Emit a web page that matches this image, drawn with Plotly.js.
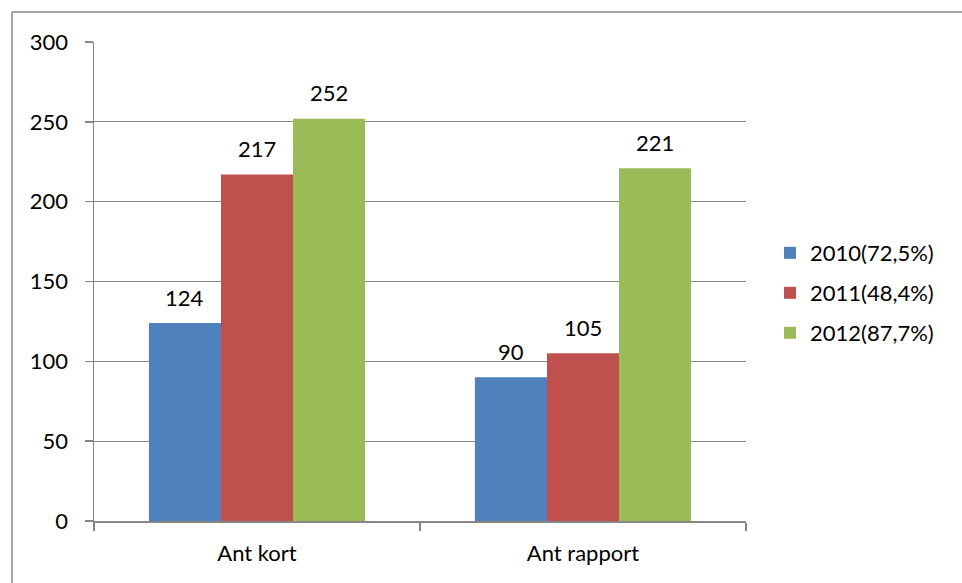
<!DOCTYPE html>
<html><head><meta charset="utf-8">
<script src="https://cdn.plot.ly/plotly-3.0.1.min.js"></script>
<style>html,body{margin:0;padding:0;background:#fff;}#chart{width:962px;height:583px;}</style>
</head><body><div id="chart"></div>
<script>
const categories = ["Ant kort", "Ant rapport"];
const seriesNames = ["2010(72,5%)", "2011(48,4%)", "2012(87,7%)"];
const values2010 = [124, 90];
const values2011 = [217, 105];
const values2012 = [252, 221];
const colors = ["#4F81BD", "#C0504D", "#9BBB59"];
const yTicks = [0, 50, 100, 150, 200, 250, 300];

const allValues = [values2010, values2011, values2012];
const FONT = "Lato, 'Open Sans', sans-serif";
const FS = 22;
const legendIds = ["legend", "legend2", "legend3"];

const traces = allValues.map((vals, k) => ({
  type: "bar",
  name: seriesNames[k],
  x: categories,
  y: vals,
  marker: {color: colors[k], line: {width: 0}},
  legend: legendIds[k],
  hoverinfo: "skip"
}));

const bargap = 0.337;
const barW = (1 - bargap) / 3;
const annotations = [];
allValues.forEach((vals, k) => {
  vals.forEach((v, i) => {
    annotations.push({
      x: i + (k - 1) * barW, y: v, xref: "x", yref: "y",
      text: String(v), showarrow: false, yanchor: "middle", yshift: 26,
      font: {family: FONT, size: FS, color: "#000"}
    });
  });
});

const pw = 652, ph = 479, L = 94, T = 42;
const px = X => (X - L) / pw;
const py = Y => (T + ph - Y) / ph;

const legendBase = {
  font: {family: FONT, size: FS, color: "#000"},
  bgcolor: "rgba(0,0,0,0)", borderwidth: 0,
  xanchor: "left", yanchor: "middle", x: px(770),
  itemwidth: 30
};

const layout = {
  width: 962, height: 583,
  margin: {l: L, r: 962 - 746, t: T, b: 583 - 521, pad: 0},
  paper_bgcolor: "#fff", plot_bgcolor: "#fff",
  barmode: "group", bargap: bargap, bargroupgap: 0,
  font: {family: FONT, size: FS, color: "#000"},
  showlegend: true,
  legend: Object.assign({}, legendBase, {y: py(253)}),
  legend2: Object.assign({}, legendBase, {y: py(293)}),
  legend3: Object.assign({}, legendBase, {y: py(333)}),
  xaxis: {
    type: "category",
    showline: true, linecolor: "#868686", linewidth: 1.5,
    ticks: "outside", tickson: "boundaries", ticklen: 8, tickcolor: "#868686", tickwidth: 1.5,
    showgrid: false, zeroline: false,
    tickfont: {family: FONT, size: FS, color: "#000"},
    ticklabelstandoff: 12
  },
  yaxis: {
    range: [0, 300], tickvals: yTicks, ticktext: yTicks.map(String),
    showline: true, linecolor: "#868686", linewidth: 1.5,
    ticks: "outside", ticklen: 8, tickcolor: "#868686", tickwidth: 1.5,
    showgrid: true, gridcolor: "#868686", gridwidth: 1,
    zeroline: false,
    tickfont: {family: FONT, size: FS, color: "#000"},
    ticklabelstandoff: 12
  },
  annotations: annotations,
  shapes: [
    {type: "line", xref: "paper", yref: "paper", x0: px(12), x1: px(12), y0: py(583), y1: py(12), line: {color: "#888", width: 1.5}},
    {type: "line", xref: "paper", yref: "paper", x0: px(12), x1: px(962), y0: py(12), y1: py(12), line: {color: "#888", width: 1.5}}
  ]
};

Plotly.newPlot("chart", traces, layout, {displayModeBar: false, staticPlot: true});
</script></body></html>
